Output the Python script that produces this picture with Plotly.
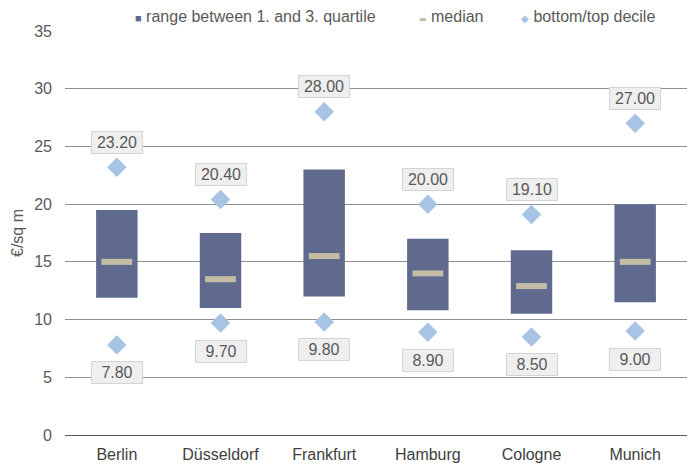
import plotly.graph_objects as go

cities = ["Berlin", "Düsseldorf", "Frankfurt", "Hamburg", "Cologne", "Munich"]
q1 = [11.9, 11.0, 12.0, 10.8, 10.5, 11.5]
q3 = [19.5, 17.5, 23.0, 17.0, 16.0, 20.0]
median = [15.0, 13.5, 15.5, 14.0, 12.9, 15.0]
bottom_decile = [7.8, 9.7, 9.8, 8.9, 8.5, 9.0]
top_decile = [23.2, 20.4, 28.0, 20.0, 19.1, 27.0]

legend_names = ["range between 1. and 3. quartile", "median", "bottom/top decile"]

FONT = "Liberation Sans, Arial, sans-serif"
TXT = "#595959"
C_BOX = "#5f6a8e"
C_MED = "#c4bca4"
C_DEC = "#a8c4e4"

fig = go.Figure()
fig.add_trace(go.Bar(
    x=cities, y=[b - a for a, b in zip(q1, q3)], base=q1, width=0.4,
    marker=dict(color=C_BOX, line=dict(width=0)),
    name=legend_names[0], hoverinfo="skip", showlegend=False))
fig.add_trace(go.Scatter(
    x=cities, y=median, mode="markers", name=legend_names[1], showlegend=False,
    marker=dict(symbol="line-ew", size=22, line=dict(color=C_MED, width=6))))
fig.add_trace(go.Scatter(
    x=cities + cities, y=top_decile + bottom_decile, mode="markers",
    name=legend_names[2], showlegend=False,
    marker=dict(symbol="diamond", size=15, color=C_DEC)))

for c, t, b in zip(cities, top_decile, bottom_decile):
    for val, shift in ((t, 25), (b, -28)):
        fig.add_annotation(
            x=c, y=val, text=f"{val:.2f}", showarrow=False, yshift=shift,
            font=dict(family=FONT, size=16, color=TXT), width=46, height=17,
            bgcolor="#efefef", bordercolor="#d4d4d4", borderwidth=1, borderpad=2)

# legend (drawn as text annotations to match compact legend layout)
legend_items = [
    (0.109, '<span style="color:%s;font-size:11px">■</span> ' % C_BOX + legend_names[0]),
    (0.566, '<span style="color:%s;font-size:8px;font-family:DejaVu Sans">▬</span> ' % C_MED + legend_names[1]),
    (0.730, '<span style="color:%s;font-size:10px">◆</span> ' % C_DEC + legend_names[2]),
]
for xp, txt in legend_items:
    fig.add_annotation(xref="paper", yref="paper", x=xp, y=1.035, xanchor="left",
                       yanchor="middle", text=txt, showarrow=False,
                       font=dict(family=FONT, size=16, color=TXT))

fig.update_layout(
    width=693, height=464,
    margin=dict(l=65, r=6, t=31, b=29, autoexpand=False),
    paper_bgcolor="white", plot_bgcolor="white",
    font=dict(family=FONT, size=16, color=TXT),
    showlegend=False,
    bargap=0.6,
)
fig.update_yaxes(range=[0, 35], dtick=5, showgrid=True, gridcolor="#8f8f8f", gridwidth=1,
                 zeroline=True, zerolinecolor="#595959", zerolinewidth=1,
                 title=dict(text="€/sq m", font=dict(size=16, color=TXT), standoff=6),
                 tickfont=dict(size=16, color=TXT), ticks="", showline=False,
                 ticklabelstandoff=12, automargin=False)
fig.update_xaxes(tickfont=dict(size=16, color="#404040"), ticks="", showline=False,
                 showgrid=False, ticklabelstandoff=8, automargin=False)

fig.write_html("out.html")
